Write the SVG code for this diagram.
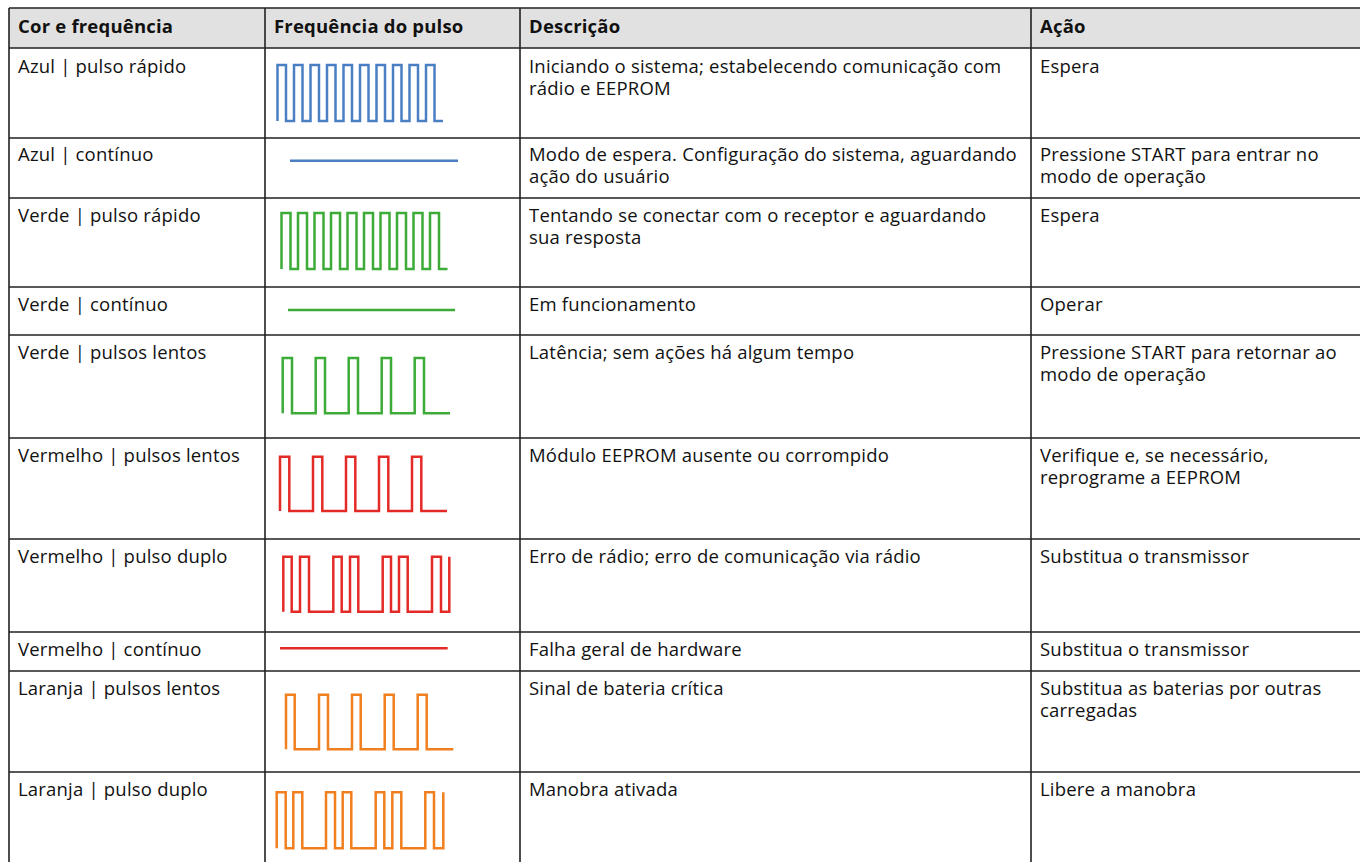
<svg xmlns="http://www.w3.org/2000/svg" width="1360" height="862" viewBox="0 0 1360 862">
<style>
text{font-family:"Open Sans","Liberation Sans",sans-serif;font-size:18.5px;letter-spacing:0.2px;fill:#111}
.h{font-weight:bold}
.g{stroke:#222;stroke-width:1.6;fill:none}
.w{fill:none;stroke-width:2.5;stroke-linejoin:miter;stroke-linecap:butt}
.b{stroke:#4a7fc4}.gr{stroke:#3dab37}.r{stroke:#e42a26}.o{stroke:#f07f1f}
</style>
<rect x="0" y="0" width="1360" height="862" fill="#fff"/>
<rect x="9" y="8" width="1351" height="40" fill="#e1e1e1"/>
<g id="grid" class="g">
<path d="M9,8H1360M9,48H1360M9,138H1360M9,198H1360M9,287H1360M9,335H1360M9,438H1360M9,539H1360M9,632H1360M9,671H1360M9,772H1360"/>
<path d="M9,8V862M265,8V862M520,8V862M1031,8V862"/>
</g>
<g id="header">
<text class="h" x="18" y="33">Cor e frequência</text>
<text class="h" x="274" y="33">Frequência do pulso</text>
<text class="h" x="529" y="33">Descrição</text>
<text class="h" x="1040" y="33">Ação</text>
</g>
<g id="row1">
<text x="18" y="72.5">Azul | pulso rápido</text>
<path class="w b" d="M277.5,121V65H286V121H294V65H302.5V121H310.5V65H319V121H327V65H335.5V121H343.5V65H352V121H360V65H368.5V121H376.5V65H385V121H393V65H401.5V121H409.5V65H418V121H426V65H434.5V121H443"/>
<text x="529" y="72.5">Iniciando o sistema; estabelecendo comunicação com</text>
<text x="529" y="94.5">rádio e EEPROM</text>
<text x="1040" y="72.5">Espera</text>
</g>
<g id="row2">
<text x="18" y="160.5">Azul | contínuo</text>
<path class="w b" d="M290,160.7H458"/>
<text x="529" y="160.5">Modo de espera. Configuração do sistema, aguardando</text>
<text x="529" y="182.5">ação do usuário</text>
<text x="1040" y="160.5">Pressione START para entrar no</text>
<text x="1040" y="182.5">modo de operação</text>
</g>
<g id="row3">
<text x="18" y="221.5">Verde | pulso rápido</text>
<path class="w gr" d="M281.5,269V213H290.5V269H298V213H307V269H314.5V213H323.5V269H331V213H340V269H347.5V213H356.5V269H364V213H373V269H380.5V213H389.5V269H397V213H406V269H413.5V213H422.5V269H430V213H439V269H447.5"/>
<text x="529" y="221.5">Tentando se conectar com o receptor e aguardando</text>
<text x="529" y="243.5">sua resposta</text>
<text x="1040" y="221.5">Espera</text>
</g>
<g id="row4">
<text x="18" y="310.5">Verde | contínuo</text>
<path class="w gr" d="M288,310H455"/>
<text x="529" y="310.5">Em funcionamento</text>
<text x="1040" y="310.5">Operar</text>
</g>
<g id="row5">
<text x="18" y="358.5">Verde | pulsos lentos</text>
<path class="w gr" d="M282.7,413.3V358H292V413.3H315.7V358H325V413.3H348.7V358H358V413.3H381.7V358H391V413.3H414.7V358H424V413.3H450"/>
<text x="529" y="358.5">Latência; sem ações há algum tempo</text>
<text x="1040" y="358.5">Pressione START para retornar ao</text>
<text x="1040" y="380.5">modo de operação</text>
</g>
<g id="row6">
<text x="18" y="461.5">Vermelho | pulsos lentos</text>
<path class="w r" d="M280,511V456.7H289.3V511H313V456.7H322.3V511H346V456.7H355.3V511H379V456.7H388.3V511H412V456.7H421.3V511H447"/>
<text x="529" y="461.5">Módulo EEPROM ausente ou corrompido</text>
<text x="1040" y="461.5">Verifique e, se necessário,</text>
<text x="1040" y="483.5">reprograme a EEPROM</text>
</g>
<g id="row7">
<text x="18" y="562.5">Vermelho | pulso duplo</text>
<path class="w r" d="M283.3,611.7V556.7H291.7V611.7H300V556.7H309V611.7H333.3V556.7H341.7V611.7H350V556.7H358.3V611.7H382.7V556.7H391V611.7H399V556.7H407.7V611.7H432V556.7H441V611.7H449.3V556.7"/>
<text x="529" y="562.5">Erro de rádio; erro de comunicação via rádio</text>
<text x="1040" y="562.5">Substitua o transmissor</text>
</g>
<g id="row8">
<text x="18" y="655.5">Vermelho | contínuo</text>
<path class="w r" d="M280,648.3H447.7"/>
<text x="529" y="655.5">Falha geral de hardware</text>
<text x="1040" y="655.5">Substitua o transmissor</text>
</g>
<g id="row9">
<text x="18" y="694.5">Laranja | pulsos lentos</text>
<path class="w o" d="M286,749.3V694.7H294.7V749.3H319V694.7H328V749.3H352V694.7H360.7V749.3H384.7V694.7H393.7V749.3H417.7V694.7H426.7V749.3H453.3"/>
<text x="529" y="694.5">Sinal de bateria crítica</text>
<text x="1040" y="694.5">Substitua as baterias por outras</text>
<text x="1040" y="716.5">carregadas</text>
</g>
<g id="row10">
<text x="18" y="795.5">Laranja | pulso duplo</text>
<path class="w o" d="M276.7,848.3V792.3H285.7V848.3H293.3V792.3H302.3V848.3H326V792.3H335V848.3H342.7V792.3H351.3V848.3H375.7V792.3H384.3V848.3H392.3V792.3H401.3V848.3H425.3V792.3H434V848.3H443.3V792.3"/>
<text x="529" y="795.5">Manobra ativada</text>
<text x="1040" y="795.5">Libere a manobra</text>
</g>
<g id="connectors"/>
</svg>
